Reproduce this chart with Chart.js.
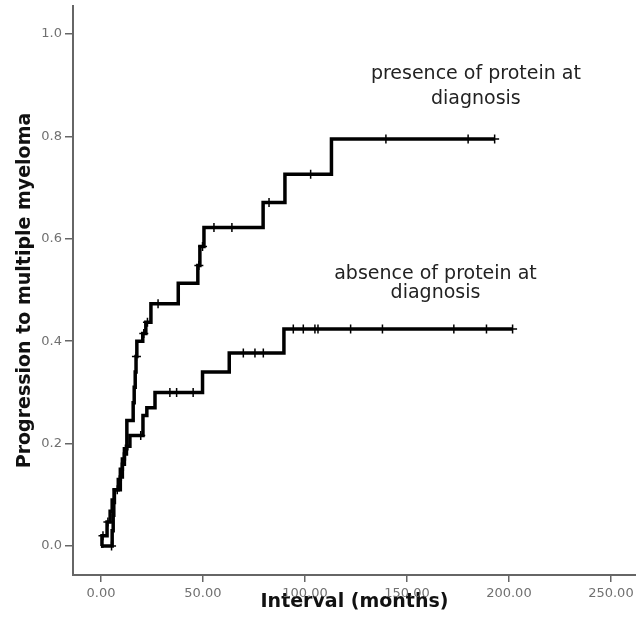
<!DOCTYPE html>
<html>
<head>
<meta charset="utf-8">
<script src="https://cdn.jsdelivr.net/npm/chart.js@4"></script>
<style>
  html, body { margin: 0; padding: 0; background: #fff; overflow: hidden; }
  /* a bit wider than the window: the x axis runs off the right edge in the original */
  #wrap { width: 642px; height: 636px; }
</style>
</head>
<body>
<div id="wrap"><canvas id="chart"></canvas></div>
<script>
// Cumulative progression curves (step functions).
const presenceTimes = [0, 0.5, 3, 4.5, 5.5, 6.5, 8.5, 9.5, 10.5, 11.5, 12.7, 15.8, 16.3, 16.8, 17.2, 17.6, 20.5, 22, 24.5, 37.9, 47.5, 48.5, 50.5, 79.5, 90.2, 113, 193];
const presenceValues = [0, 0.02, 0.047, 0.068, 0.09, 0.11, 0.13, 0.15, 0.17, 0.19, 0.245, 0.28, 0.31, 0.34, 0.37, 0.40, 0.415, 0.437, 0.473, 0.513, 0.548, 0.585, 0.622, 0.671, 0.726, 0.795, 0.795];
const presenceCensored = [1, 3.4, 17.4, 21, 22.8, 28, 48, 49.8, 55.4, 64.2, 82.4, 102.8, 139.7, 180, 193];

const absenceTimes = [0, 5.5, 6, 6.3, 6.6, 9.5, 10.5, 11.5, 12.5, 14.2, 20.6, 22.5, 26.5, 49.8, 62.9, 89.7, 201.8];
const absenceValues = [0, 0.03, 0.06, 0.085, 0.11, 0.135, 0.16, 0.18, 0.195, 0.216, 0.255, 0.27, 0.30, 0.34, 0.377, 0.424, 0.424];
const absenceCensored = [5.2, 8, 19.5, 33.8, 37.1, 45.2, 69.8, 75.5, 79.6, 94.3, 99.2, 104.9, 106.4, 122.4, 138, 173, 189, 201.8];

const xTicks = [0, 50, 100, 150, 200, 250];
const yTicks = [0, 0.2, 0.4, 0.6, 0.8, 1.0];

const curveLabels = [
  { lines: ['presence of protein at', 'diagnosis'], x: 183.8, y: [0.922, 0.873] },
  { lines: ['absence of protein at', 'diagnosis'], x: 164, y: [0.532, 0.495] },
];

function stepValue(times, values, t) {
  let v = values[0];
  for (let i = 0; i < times.length; i++) {
    if (times[i] <= t) v = values[i];
  }
  return v;
}

function curve(times, values) {
  return times.map((t, i) => ({ x: t, y: values[i] }));
}

function censorPoints(list, times, values) {
  return list.map((t) => ({ x: t, y: stepValue(times, values, t) }));
}

const lineStyle = {
  type: 'line',
  stepped: true,
  borderColor: '#000',
  borderWidth: 3.5,
  pointRadius: 0,
  fill: false,
};

const censorStyle = {
  type: 'line',
  showLine: false,
  pointStyle: 'cross',
  pointRadius: 4.5,
  borderColor: '#000',
  backgroundColor: '#000',
  borderWidth: 1.5,
};

const labelPlugin = {
  id: 'curveLabels',
  afterDraw(chart) {
    const { ctx, scales } = chart;
    ctx.save();
    ctx.font = '19px "DejaVu Sans"';
    ctx.fillStyle = '#222';
    ctx.textAlign = 'center';
    ctx.textBaseline = 'middle';
    curveLabels.forEach((lab) => {
      const px = scales.x.getPixelForValue(lab.x);
      lab.lines.forEach((text, i) => {
        ctx.fillText(text, px, scales.y.getPixelForValue(lab.y[i]));
      });
    });
    ctx.restore();
  },
};

const axisGray = '#666';
const tickFont = { family: 'DejaVu Sans', size: 13 };
const titleFont = { family: 'DejaVu Sans', size: 19, weight: 'bold' };

new Chart(document.getElementById('chart'), {
  type: 'line',
  data: {
    datasets: [
      { ...lineStyle, label: 'presence', data: curve(presenceTimes, presenceValues) },
      { ...lineStyle, label: 'absence', data: curve(absenceTimes, absenceValues) },
      { ...censorStyle, label: 'presence censored', data: censorPoints(presenceCensored, presenceTimes, presenceValues) },
      { ...censorStyle, label: 'absence censored', data: censorPoints(absenceCensored, absenceTimes, absenceValues) },
    ],
  },
  options: {
    responsive: true,
    maintainAspectRatio: false,
    animation: false,
    layout: { padding: { top: 5, right: 0, bottom: 0, left: 0 } },
    plugins: {
      legend: { display: false },
      tooltip: { enabled: false },
    },
    scales: {
      x: {
        type: 'linear',
        min: -13.7,
        max: 262.3,
        afterBuildTicks: (axis) => { axis.ticks = xTicks.map((v) => ({ value: v })); },
        afterFit: (axis) => {
          axis.height = 61;
          axis.paddingLeft = 0;
          axis.paddingRight = 0;
        },
        ticks: {
          color: '#707070',
          font: tickFont,
          padding: 4,
          maxRotation: 0,
          callback: (v) => Number(v).toFixed(2),
        },
        grid: { display: true, drawOnChartArea: false, drawTicks: true, tickLength: 7, tickColor: axisGray, lineWidth: 1.5 },
        border: { display: true, color: axisGray, width: 2 },
        title: { display: true, text: 'Interval (months)', color: '#111', font: titleFont, padding: { top: 0, bottom: 23 } },
      },
      y: {
        type: 'linear',
        min: -0.0565,
        max: 1.0546,
        afterBuildTicks: (axis) => { axis.ticks = yTicks.map((v) => ({ value: v })); },
        afterFit: (axis) => {
          axis.width = 73;
          axis.paddingTop = 0;
          axis.paddingBottom = 0;
        },
        ticks: {
          color: '#707070',
          font: tickFont,
          padding: 3,
          callback: (v) => Number(v).toFixed(1),
        },
        grid: { display: true, drawOnChartArea: false, drawTicks: true, tickLength: 8, tickColor: axisGray, lineWidth: 1.5 },
        border: { display: true, color: axisGray, width: 2 },
        title: { display: true, text: 'Progression to multiple myeloma', color: '#111', font: titleFont, padding: { top: 14, bottom: 0 } },
      },
    },
  },
  plugins: [labelPlugin],
});
</script>
</body>
</html>
